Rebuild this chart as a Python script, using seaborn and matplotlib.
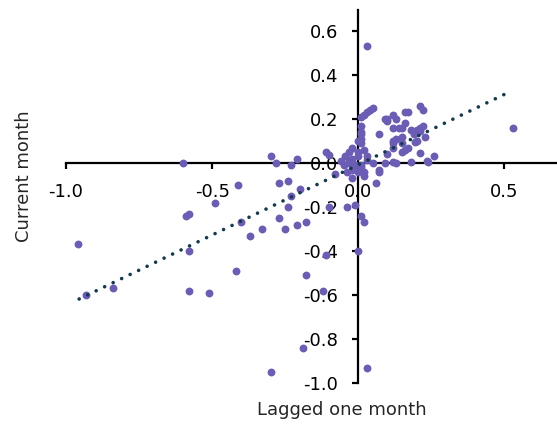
import numpy as np
import matplotlib
matplotlib.use("Agg")
import matplotlib.pyplot as plt
from matplotlib.ticker import FormatStrFormatter
import seaborn as sns

# Monthly changes: value lagged one month vs. current month
LAGGED = [
    -0.60, -0.41, -0.49, -0.59, -0.58, -0.96, -0.58, -0.40, -0.37, -0.33,
    -0.27, -0.42, -0.84, -0.58, -0.51, -0.93, -0.30, -0.30, -0.28, -0.23,
    -0.21, -0.27, -0.24, -0.20, -0.23, -0.24, -0.25, -0.21, -0.18, -0.18,
    -0.11, -0.12, -0.19, -0.10, -0.04, -0.01, 0.01, 0.02, 0.00, 0.03,
    -0.11, -0.10, -0.08, -0.04,
    0.01, 0.03, 0.04, 0.05, 0.02, 0.01, 0.00, 0.01, 0.01, 0.01,
    -0.02, -0.03, 0.00, 0.02, -0.045, -0.02, 0.00, 0.03, -0.03, -0.01,
    0.01, 0.05, 0.07, -0.02, 0.00, 0.02, -0.02, 0.02, 0.06, -0.06,
    -0.05, 0.01, -0.03, 0.03, 0.01,
    0.07, 0.10, 0.10, 0.12, 0.13, 0.16, 0.17, 0.21, 0.22, 0.12,
    0.15, 0.16, 0.18, 0.20, 0.21, 0.22, 0.23, 0.13, 0.12, 0.15,
    0.17, 0.20, 0.15, 0.21, 0.10, 0.09, 0.12, 0.13, 0.18, 0.24,
    0.26, 0.235, 0.09, 0.14, 0.19, 0.12, 0.15, 0.195, 0.12, 0.16,
    0.21, 0.07,
    0.03, 0.53,
]
CURRENT = [
    0.00, -0.10, -0.18, -0.24, -0.23, -0.37, -0.40, -0.27, -0.33, -0.30,
    -0.25, -0.49, -0.57, -0.58, -0.59, -0.60, -0.95, 0.03, 0.00, -0.01,
    0.02, -0.09, -0.08, -0.12, -0.15, -0.20, -0.30, -0.28, -0.27, -0.51,
    -0.42, -0.58, -0.84, -0.20, -0.20, -0.19, -0.24, -0.27, -0.40, -0.93,
    0.05, 0.035, -0.05, -0.04,
    0.21, 0.23, 0.24, 0.25, 0.22, 0.13, 0.10, 0.14, 0.11, 0.09,
    0.07, 0.05, 0.05, 0.06, 0.03, 0.02, 0.03, 0.03, 0.00, -0.01,
    -0.01, 0.00, -0.03, -0.03, -0.04, -0.04, -0.07, -0.06, -0.09, 0.01,
    -0.01, 0.17, 0.015, 0.015, -0.02,
    0.13, 0.19, 0.20, 0.22, 0.20, 0.23, 0.23, 0.26, 0.24, 0.16,
    0.16, 0.18, 0.15, 0.15, 0.145, 0.17, 0.12, 0.11, 0.10, 0.12,
    0.07, 0.10, 0.05, 0.045, 0.04, 0.00, 0.005, 0.00, 0.005, 0.005,
    0.03, 0.01, 0.20, 0.16, 0.13, 0.09, 0.09, 0.095, 0.07, 0.06,
    0.16, -0.04,
    0.53, 0.16,
]

# linear trend as drawn on the chart
TREND_SLOPE = 0.639
TREND_INTERCEPT = -0.008
TREND_X = [-0.955, 0.50]

X_TICKS = [-1.0, -0.5, 0.0, 0.5]
Y_TICKS = [-1.0, -0.8, -0.6, -0.4, -0.2, 0.0, 0.2, 0.4, 0.6]

sns.set_style("white")
plt.rcParams["font.family"] = ["DejaVu Sans"]
plt.rcParams["axes.unicode_minus"] = False

W, H = 557, 428
fig = plt.figure(figsize=(W / 100, H / 100), dpi=100)
ax = fig.add_axes([66 / W, 1 - 383 / H, 491 / W, 373 / H])

sns.scatterplot(x=LAGGED, y=CURRENT, color="#6b5cb5", s=32, linewidth=0,
                ax=ax, zorder=3, clip_on=False)

tx = np.array(TREND_X)
ax.plot(tx, TREND_SLOPE * tx + TREND_INTERCEPT, color="#113a4e", lw=2.6,
        linestyle=(0, (0.01, 2.6)), dash_capstyle="round", zorder=4)

ax.set_xlim(-1.0, 0.68)
ax.set_ylim(-1.0, 0.695)

for side in ["top", "right"]:
    ax.spines[side].set_visible(False)
for side in ["left", "bottom"]:
    ax.spines[side].set_position(("data", 0))
    ax.spines[side].set_color("black")
    ax.spines[side].set_linewidth(1.6)
    ax.spines[side].set_zorder(2)

ax.set_xticks(X_TICKS)
ax.set_yticks(Y_TICKS)
ax.xaxis.set_major_formatter(FormatStrFormatter("%.1f"))
ax.yaxis.set_major_formatter(FormatStrFormatter("%.1f"))
ax.tick_params(axis="both", direction="out", length=4.5, width=1.6,
               color="black", labelsize=13, labelcolor="black", pad=10,
               bottom=True, left=True)

ax.set_xlabel("Lagged one month", fontsize=13)
ax.set_ylabel("Current month", fontsize=13)
ax.xaxis.set_label_coords(0.562, -0.072)
ax.yaxis.set_label_coords(-0.085, 0.555)
ax.xaxis.label.set_verticalalignment("center")
ax.yaxis.label.set_verticalalignment("center")

fig.savefig("out.png", dpi=100)
